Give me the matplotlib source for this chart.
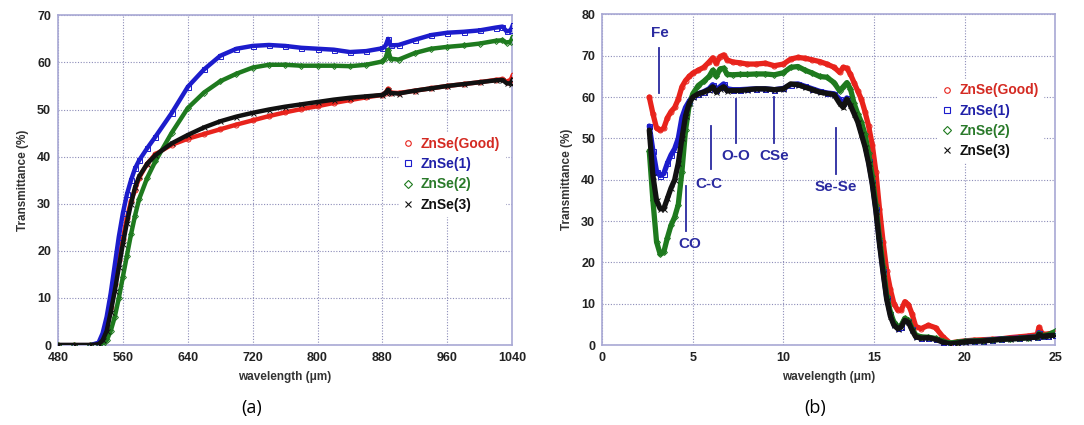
import matplotlib.pyplot as plt
from matplotlib.lines import Line2D

plt.rcParams['font.family'] = ['Liberation Sans', 'DejaVu Sans']

# ---- panel (a): visible / near-IR ----
wl_a = [480, 500, 520, 530, 535, 540, 545, 550, 555, 560, 565, 570, 575, 580, 590,
        600, 620, 640, 660, 680, 700, 720, 740, 760, 780, 800, 820, 840, 860, 880,
        884, 887, 890, 900, 920, 940, 960, 980, 1000, 1020, 1028, 1033, 1038, 1041]
good_a = [0, 0, 0, 0.3, 1.5, 4, 8, 13, 18, 22.5, 27, 30.5, 33, 35.5, 38.5,
          40.5, 42.5, 43.8, 44.8, 45.8, 46.8, 47.7, 48.6, 49.4, 50.1, 50.7, 51.4, 52.0, 52.6, 53.1,
          53.6, 54.4, 53.6, 53.5, 54.0, 54.5, 55.0, 55.4, 55.8, 56.3, 56.4, 55.9, 56.3, 57.3]
zn1_a = [0, 0, 0, 0.5, 2.5, 6, 11, 17, 23, 28, 32, 35, 37.5, 39.2, 41.8,
         44.2, 49.2, 54.8, 58.5, 61.4, 62.9, 63.5, 63.7, 63.5, 63.1, 62.9, 62.7, 62.2, 62.4, 63.0,
         63.6, 65.0, 63.6, 63.7, 64.8, 65.8, 66.3, 66.5, 66.8, 67.4, 67.6, 66.6, 66.8, 68.0]
zn2_a = [0, 0, 0, 0, 0.2, 1, 3, 6, 10, 14.5, 19, 23.5, 27.5, 31, 35.5,
         39.0, 45.0, 50.3, 53.6, 56.0, 57.6, 58.9, 59.5, 59.5, 59.3, 59.3, 59.3, 59.2, 59.5, 60.2,
         61.0, 62.6, 60.8, 60.6, 62.0, 62.9, 63.3, 63.6, 64.0, 64.6, 64.7, 64.2, 64.4, 65.5]
zn3_a = [0, 0, 0, 0.2, 1, 3, 7, 11.5, 16.5, 21.5, 26, 30, 33.5, 35.8, 38.5,
         40.3, 42.8, 44.6, 46.2, 47.5, 48.5, 49.3, 50.0, 50.6, 51.1, 51.6, 52.1, 52.5, 52.8, 53.1,
         53.6, 54.2, 53.5, 53.4, 54.0, 54.5, 55.0, 55.4, 55.8, 56.2, 56.3, 55.6, 55.5, 56.5]
ticks_a = [480, 560, 640, 720, 800, 880, 960, 1040]

# ---- panel (b): mid-IR ----
wl_b = [2.6, 2.8, 3.0, 3.2, 3.4, 3.6, 3.8, 4.0, 4.2, 4.4, 4.6, 4.8, 5.0, 5.3, 5.6,
        5.9, 6.1, 6.3, 6.5, 6.7, 6.9, 7.2, 7.6, 8.0, 8.5, 9.0, 9.5, 10.0, 10.4, 10.8,
        11.2, 11.6, 12.0, 12.4, 12.8, 13.1, 13.3, 13.5, 13.7, 13.9, 14.1, 14.3, 14.5, 14.7, 14.9,
        15.1, 15.3, 15.5, 15.7, 15.9, 16.1, 16.3, 16.5, 16.7, 16.9, 17.1, 17.3, 17.6, 18.0, 18.4,
        18.8, 19.2, 19.6, 20.0, 20.5, 21.0, 21.5, 22.0, 22.5, 23.0, 23.5, 24.0, 24.1, 24.3, 24.6, 25.0]
good_b = [60, 56, 52.5, 52, 52.5, 55, 56.5, 57.5, 59.5, 62.5, 64, 65, 65.8, 66.5, 67.2,
          68.5, 69.5, 68.2, 69.8, 70.2, 69, 68.5, 68.3, 68.0, 68.0, 68.2, 67.6, 68.0, 69.2, 69.6,
          69.4, 69.0, 68.6, 68.0, 67.2, 66.0, 67.2, 67.0, 65.5, 63.5, 61.5, 59.5, 56.5, 53.0, 48.5,
          42.0, 33.0, 25.0, 18.0, 13.5, 10.0, 8.5, 8.5, 10.5, 9.8, 7.5, 4.5, 4.0, 4.8, 4.2,
          2.0, 0.5, 0.8, 1.0, 1.2, 1.3, 1.4, 1.5, 1.8, 2.0, 2.2, 2.5, 4.3, 2.6, 2.7, 3.0]
zn1_b = [53, 47, 42, 41, 41.5, 44, 46, 47.5, 50, 55, 57.5, 59, 60.2, 60.8, 61.3,
         62.0, 63.0, 61.8, 62.5, 63.2, 62.0, 61.8, 61.8, 61.9, 62.0, 62.0, 61.8, 62.1, 63.0, 63.2,
         62.6, 62.0, 61.4, 61.0, 60.8, 59.5, 58.5, 59.8, 58.5, 56.5, 54.5, 51.5, 48.5, 44.5, 39.5,
         33.0, 25.0, 18.0, 11.5, 7.5, 5.0, 4.2, 4.5, 6.3, 5.8, 3.8, 2.2, 1.8, 1.8, 1.5,
         0.8, 0.4, 0.6, 0.9, 1.0, 1.1, 1.3, 1.5, 1.6, 1.7, 1.9, 2.0, 3.0, 2.2, 2.3, 2.5]
zn2_b = [47, 35, 25, 22, 22.5, 26, 29, 31, 34, 42, 52, 58, 60.8, 62.8, 63.8,
         65.0, 66.5, 65.0, 66.8, 67.0, 65.5, 65.4, 65.5, 65.5, 65.6, 65.6, 65.4, 65.9, 67.2, 67.4,
         66.5, 65.8, 65.0, 64.8, 63.5, 61.5, 62.5, 63.5, 62.0, 58.5, 56.0, 54.0, 51.0, 46.5, 41.0,
         34.0, 26.0, 19.0, 12.0, 8.0, 5.5, 4.5, 4.8, 6.5, 6.0, 4.0, 2.4, 2.0, 1.9, 1.6,
         0.9, 0.5, 0.7, 0.9, 1.0, 1.1, 1.2, 1.4, 1.5, 1.6, 1.8, 2.0, 2.8, 2.3, 2.5, 3.3]
zn3_b = [52, 41, 35, 33, 33, 35.5, 38, 40, 44, 50, 55.5, 58.5, 60.0, 60.8, 61.2,
         61.8, 62.5, 61.2, 62.0, 62.5, 61.5, 61.6, 61.6, 61.8, 62.0, 62.0, 61.8, 62.0, 63.2, 63.0,
         62.4, 61.8, 61.2, 60.9, 60.6, 58.5, 57.5, 59.5, 58.0, 56.0, 54.0, 51.0, 48.0, 44.0, 39.0,
         32.5, 24.5, 17.5, 11.0, 7.0, 4.8, 4.0, 4.4, 6.0, 5.5, 3.6, 2.0, 1.7, 1.8, 1.4,
         0.7, 0.3, 0.5, 0.8, 0.9, 1.0, 1.2, 1.4, 1.5, 1.6, 1.8, 1.9, 2.6, 2.1, 2.3, 2.4]
ticks_b = [0, 5, 10, 15, 20, 25]

# absorption band labels: (text, line x, line y0, line y1, text x, text y)
bands = [
    ("Fe", 3.15, 61, 72, 3.2, 75.5),
    ("CO", 4.65, 27.5, 38.5, 4.85, 24.5),
    ("C-C", 6.0, 42.5, 53, 5.9, 39),
    ("O-O", 7.4, 48.8, 59.5, 7.35, 45.7),
    ("CSe", 9.5, 48.8, 60, 9.5, 45.7),
    ("Se-Se", 12.9, 41.5, 52.5, 12.9, 38.3),
]

names = ["ZnSe(Good)", "ZnSe(1)", "ZnSe(2)", "ZnSe(3)"]
colors = ["#e8231c", "#1c1ccc", "#1e7a1e", "#111111"]
text_colors = ["#d42a22", "#2020a8", "#2a7a2a", "#111111"]
markers = ["o", "s", "D", "x"]
msizes = [3.6, 3.6, 3.0, 3.6]

frame_col = "#a8a8d4"
grid_col = "#8c8cb8"
band_col = "#2a2aa0"

fig = plt.figure(figsize=(10.84, 4.25), dpi=100)
ax_a = fig.add_axes([0.0535, 0.188, 0.419, 0.776])
ax_b = fig.add_axes([0.5555, 0.188, 0.418, 0.778])


def draw_series(ax, x, series, lw):
    for ys, c, m, ms in zip(series, colors, markers, msizes):
        ax.plot(x, ys, color=c, lw=lw, solid_capstyle='round',
                solid_joinstyle='round', zorder=3)
        ax.plot(x, ys, linestyle='none', marker=m, ms=ms, mfc='none', mec=c,
                mew=0.7, zorder=3)


def style_axes(ax):
    for sp in ax.spines.values():
        sp.set_color(frame_col)
        sp.set_linewidth(1.2)
    ax.grid(True, color=grid_col, linestyle=(0, (1, 1.5)), linewidth=0.8)
    ax.set_axisbelow(True)
    ax.tick_params(length=0, pad=5, labelsize=9, labelcolor="#222222")
    for lab in ax.get_xticklabels() + ax.get_yticklabels():
        lab.set_fontweight('bold')
    ax.set_ylabel("Transmittance (%)", fontsize=8.5, fontweight='bold',
                  color="#333333", labelpad=6)
    ax.set_xlabel("wavelength (\u03bcm)", fontsize=8.5, fontweight='bold',
                  color="#333333", labelpad=5)


def add_legend(ax, loc):
    handles = [Line2D([], [], linestyle='none', marker=m, ms=4, mfc='none',
                      mec=c, mew=0.8) for c, m in zip(colors, markers)]
    leg = ax.legend(handles, names, loc='upper left', bbox_to_anchor=loc,
                    frameon=True, fancybox=False, edgecolor='white',
                    facecolor='white', framealpha=1, handlelength=0.8,
                    handletextpad=0.5, labelspacing=0.45, borderpad=0.3,
                    prop={'weight': 'bold', 'size': 10})
    for t, tc in zip(leg.get_texts(), text_colors):
        t.set_color(tc)


# panel (a)
draw_series(ax_a, wl_a, [good_a, zn1_a, zn2_a, zn3_a], 3.2)
ax_a.set_xlim(480, 1040)
ax_a.set_ylim(0, 70)
ax_a.set_xticks(ticks_a)
ax_a.set_yticks(range(0, 71, 10))
style_axes(ax_a)
add_legend(ax_a, (0.735, 0.665))

# panel (b)
draw_series(ax_b, wl_b, [good_b, zn1_b, zn2_b, zn3_b], 3.8)
ax_b.set_xlim(0, 25)
ax_b.set_ylim(0, 80)
ax_b.set_xticks(ticks_b)
ax_b.set_yticks(range(0, 81, 10))
style_axes(ax_b)
add_legend(ax_b, (0.725, 0.825))

for label, lx, y0, y1, tx, ty in bands:
    ax_b.plot([lx, lx], [y0, y1], color=band_col, lw=1.3, zorder=4)
    ax_b.text(tx, ty, label, color=band_col, fontsize=11, fontweight='bold',
              ha='center', va='center', zorder=5)

fig.text(0.2325, 0.04, "(a)", fontsize=13, ha='center', va='center',
         family=['Open Sans', 'DejaVu Sans'])
fig.text(0.752, 0.04, "(b)", fontsize=13, ha='center', va='center',
         family=['Open Sans', 'DejaVu Sans'])

fig.savefig("out.png", dpi=100, facecolor='white')
